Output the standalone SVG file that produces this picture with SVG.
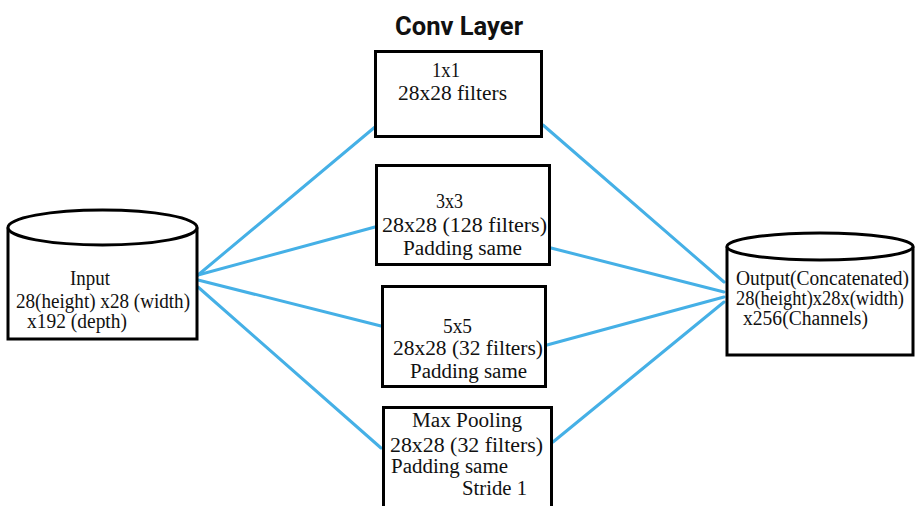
<svg xmlns="http://www.w3.org/2000/svg" width="917" height="506" viewBox="0 0 917 506">
<style>
.shape{fill:#ffffff;stroke:#000000;stroke-width:3}
.t{font-family:"Liberation Serif","Times New Roman",serif;font-size:20px;fill:#111111}
.title{font-family:Roboto,"Liberation Sans",sans-serif;font-weight:bold;font-size:26px;fill:#111111}
.conn line{stroke:#45b0e6;stroke-width:3;stroke-linecap:round}
</style>
<rect width="917" height="506" fill="#ffffff"/>
<text class="title" x="395" y="35" textLength="128" lengthAdjust="spacingAndGlyphs">Conv Layer</text>
<g class="conn" id="connectors">
<line x1="198" y1="275" x2="375" y2="127"/>
<line x1="198" y1="275" x2="375" y2="227"/>
<line x1="198" y1="280" x2="381" y2="326"/>
<line x1="198" y1="287" x2="381" y2="448"/>
<line x1="543" y1="125" x2="724" y2="282"/>
<line x1="551" y1="248" x2="724" y2="292"/>
<line x1="547" y1="345" x2="724" y2="297"/>
<line x1="553" y1="442" x2="724" y2="302"/>
</g>
<g id="input">
<path class="shape" d="M8,227.5 L8,339 L197,339 L197,227.5"/>
<ellipse class="shape" cx="102.5" cy="227.5" rx="94.5" ry="17.5"/>
<text class="t" x="70" y="285" textLength="40" lengthAdjust="spacingAndGlyphs">Input</text>
<text class="t" x="16" y="308" textLength="174" lengthAdjust="spacingAndGlyphs">28(height) x28 (width)</text>
<text class="t" x="27" y="328" textLength="100" lengthAdjust="spacingAndGlyphs">x192 (depth)</text>
</g>
<g id="conv1x1">
<rect class="shape" x="375.5" y="51.5" width="166" height="85"/>
<text class="t" x="432" y="77" textLength="28" lengthAdjust="spacingAndGlyphs">1x1</text>
<text class="t" x="398" y="100" textLength="109" lengthAdjust="spacingAndGlyphs">28x28 filters</text>
</g>
<g id="conv3x3">
<rect class="shape" x="376.5" y="165.5" width="173" height="99"/>
<text class="t" x="436" y="208" textLength="27" lengthAdjust="spacingAndGlyphs">3x3</text>
<text class="t" x="382" y="232" textLength="165" lengthAdjust="spacingAndGlyphs">28x28 (128 filters)</text>
<text class="t" x="403" y="255" textLength="119" lengthAdjust="spacingAndGlyphs">Padding same</text>
</g>
<g id="conv5x5">
<rect class="shape" x="382.5" y="286.5" width="163" height="100"/>
<text class="t" x="443" y="333" textLength="29" lengthAdjust="spacingAndGlyphs">5x5</text>
<text class="t" x="393" y="355" textLength="150" lengthAdjust="spacingAndGlyphs">28x28 (32 filters)</text>
<text class="t" x="410" y="378" textLength="117" lengthAdjust="spacingAndGlyphs">Padding same</text>
</g>
<g id="maxpool">
<rect class="shape" x="383.5" y="407.5" width="168" height="120"/>
<text class="t" x="412" y="427" textLength="110" lengthAdjust="spacingAndGlyphs">Max Pooling</text>
<text class="t" x="390" y="452" textLength="153" lengthAdjust="spacingAndGlyphs">28x28 (32 filters)</text>
<text class="t" x="391" y="473" textLength="117" lengthAdjust="spacingAndGlyphs">Padding same</text>
<text class="t" x="462" y="495" textLength="65" lengthAdjust="spacingAndGlyphs">Stride 1</text>
</g>
<g id="output">
<path class="shape" d="M727,246.5 L727,355 L913,355 L913,246.5"/>
<ellipse class="shape" cx="820" cy="246.5" rx="93" ry="13.5"/>
<text class="t" x="736" y="285" textLength="173" lengthAdjust="spacingAndGlyphs">Output(Concatenated)</text>
<text class="t" x="736" y="305" textLength="168" lengthAdjust="spacingAndGlyphs">28(height)x28x(width)</text>
<text class="t" x="743" y="325" textLength="125" lengthAdjust="spacingAndGlyphs">x256(Channels)</text>
</g>
</svg>
